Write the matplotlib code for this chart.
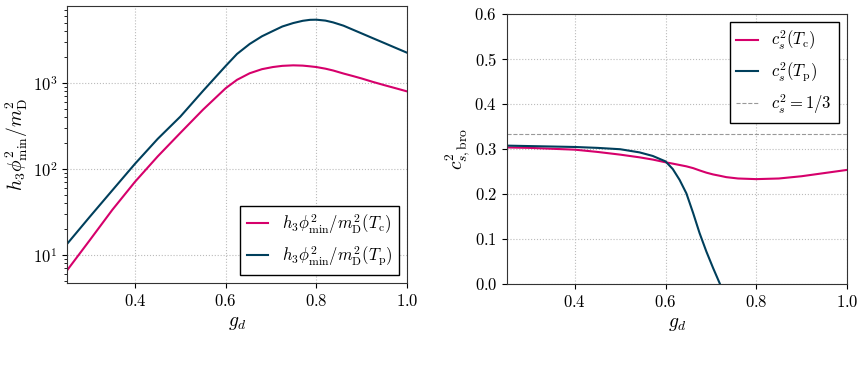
import matplotlib.pyplot as plt

plt.rcParams['font.family'] = 'serif'
plt.rcParams['font.serif'] = ['cmr10']
plt.rcParams['mathtext.fontset'] = 'cm'
plt.rcParams['axes.formatter.use_mathtext'] = True
plt.rcParams['font.size'] = 12

pink = '#d6006b'
blue = '#003f5c'

# left panel: h3 phi_min^2 / m_D^2
g_left = [0.25, 0.30, 0.35, 0.40, 0.45, 0.50, 0.55, 0.60, 0.625, 0.653, 0.68,
          0.704, 0.725, 0.749, 0.77, 0.786, 0.80, 0.82, 0.837, 0.86, 0.881,
          0.90, 0.925, 0.95, 0.975, 1.00]
phi_tc = [6.6, 14.8, 33.5, 71.0, 140.0, 263.0, 490.0, 870.0, 1090.0, 1300.0,
          1450.0, 1535.0, 1585.0, 1607.0, 1595.0, 1565.0, 1535.0, 1470.0,
          1400.0, 1290.0, 1205.0, 1130.0, 1030.0, 945.0, 870.0, 800.0]
phi_tp = [13.4, 27.7, 56.5, 115.0, 224.0, 407.0, 810.0, 1580.0, 2180.0, 2850.0,
          3500.0, 4030.0, 4550.0, 4990.0, 5300.0, 5440.0, 5460.0, 5330.0,
          5080.0, 4650.0, 4170.0, 3780.0, 3320.0, 2920.0, 2565.0, 2255.0]

# right panel: sound speed squared in the broken phase
g_right = [0.25, 0.30, 0.35, 0.40, 0.45, 0.50, 0.5426, 0.572, 0.60, 0.616,
           0.631, 0.646, 0.661, 0.675, 0.690, 0.705, 0.720, 0.734, 0.76, 0.80,
           0.85, 0.90, 0.95, 1.00]
cs_tc = [0.303, 0.302, 0.300, 0.298, 0.293, 0.287, 0.281, 0.276, 0.270, 0.267,
         0.264, 0.261, 0.257, 0.252, 0.247, 0.243, 0.240, 0.237, 0.234, 0.2326,
         0.234, 0.239, 0.246, 0.253]
cs_tp = [0.307, 0.306, 0.305, 0.304, 0.302, 0.299, 0.292, 0.284, 0.272, 0.255,
         0.231, 0.201, 0.157, 0.113, 0.072, 0.035, 0.0, -0.03]
n = len(cs_tp)

fig = plt.figure(figsize=(8.65, 3.81), dpi=100)
ax1 = fig.add_axes([0.0775, 0.257, 0.393, 0.727])
ax2 = fig.add_axes([0.586, 0.255, 0.393, 0.709])

ax1.plot(g_left, phi_tc, color=pink, lw=1.5,
         label=r'$h_3\phi^2_{\rm min}/m^2_{\rm D}(T_{\rm c})$')
ax1.plot(g_left, phi_tp, color=blue, lw=1.5,
         label=r'$h_3\phi^2_{\rm min}/m^2_{\rm D}(T_{\rm p})$')
ax1.set_yscale('log')
ax1.set_xlim(0.25, 1.0)
ax1.set_ylim(4.7, 7860)
ax1.set_xticks([0.4, 0.6, 0.8, 1.0])
ax1.set_xlabel(r'$g_d$', fontsize=14)
ax1.set_ylabel(r'$h_3\phi^2_{\rm min}/m^2_{\rm D}$', fontsize=14, labelpad=2)
ax1.grid(True, which='major', color='#bbbbbb', ls=':', lw=0.8)
ax1.legend(loc='lower right', fancybox=False, edgecolor='black',
           framealpha=1, fontsize=12, handlelength=1.3)

ax2.plot(g_right, cs_tc, color=pink, lw=1.5, label=r'$c_s^2(T_{\rm c})$')
ax2.plot(g_right[:n], cs_tp, color=blue, lw=1.5, label=r'$c_s^2(T_{\rm p})$')
ax2.axhline(1/3, color='#999999', ls='--', lw=0.8, label=r'$c_s^2 = 1/3$')
ax2.set_xlim(0.25, 1.0)
ax2.set_ylim(0.0, 0.6)
ax2.set_xticks([0.4, 0.6, 0.8, 1.0])
ax2.set_yticks([0.0, 0.1, 0.2, 0.3, 0.4, 0.5, 0.6])
ax2.set_xlabel(r'$g_d$', fontsize=14)
ax2.set_ylabel(r'$c^2_{s,\rm bro}$', fontsize=14, labelpad=2)
ax2.grid(True, color='#bbbbbb', ls=':', lw=0.8)
ax2.legend(loc='upper right', fancybox=False, edgecolor='black',
           framealpha=1, fontsize=12, handlelength=1.3)

for ax in (ax1, ax2):
    for s in ax.spines.values():
        s.set_color('#333333')

fig.savefig('out.png', dpi=100)
